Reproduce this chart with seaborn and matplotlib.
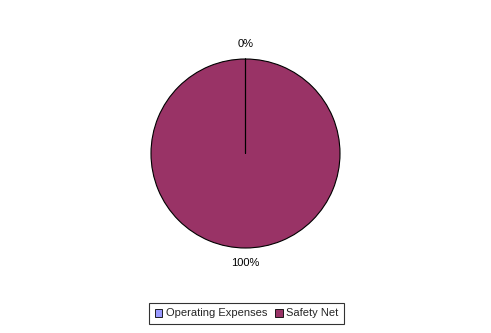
import matplotlib
matplotlib.use("Agg")
import matplotlib.pyplot as plt
import seaborn as sns

categories = ["Operating Expenses", "Safety Net"]
values = [0.001, 99.999]
pct_labels = ["0%", "100%"]
colors = ["#9999FF", "#993366"]

sns.set_theme(style="white")
plt.rcParams['font.family'] = ['Liberation Sans', 'DejaVu Sans']

W, H = 491, 333
fig = plt.figure(figsize=(W/100, H/100), dpi=100)
fig.patch.set_facecolor("white")
r = 94.5
cx, cy = 245.5, 153.5
ax = fig.add_axes([(cx - r)/W, (H - cy - r)/H, 2*r/W, 2*r/H])
wedges, texts = ax.pie(values, colors=colors, startangle=90, counterclock=False,
                       labels=pct_labels, labeldistance=1.155,
                       wedgeprops=dict(edgecolor="black", linewidth=0.8),
                       textprops=dict(fontsize=8, color="black"))
for t in texts:
    t.set_ha("center")
    t.set_va("center")
ax.set_xlim(-1, 1)
ax.set_ylim(-1, 1)
ax.set_aspect("equal")
ax.axis("off")

leg = fig.legend(wedges, categories, loc="center", bbox_to_anchor=(246.5/W, (H-313.5)/H),
                 ncol=2, frameon=True, fancybox=False, fontsize=8,
                 handlelength=0.7, handleheight=0.7, handletextpad=0.3,
                 columnspacing=0.7, borderpad=0.5, edgecolor="black")
leg.get_frame().set_linewidth(0.8)
for h in leg.legend_handles:
    h.set_linewidth(0.6)

fig.savefig("out.png", dpi=100, facecolor="white")
